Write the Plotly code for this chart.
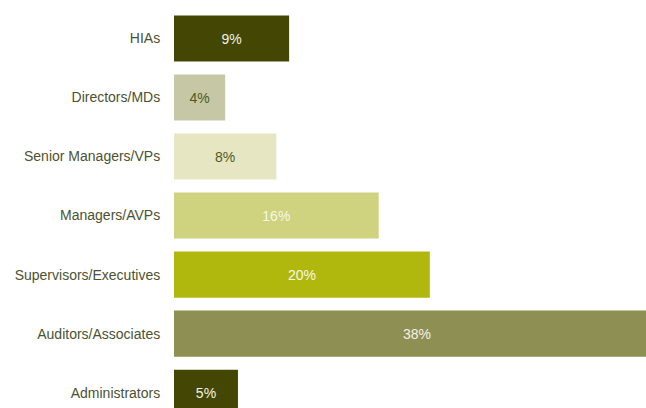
import plotly.graph_objects as go

# Staff composition by level (percent of respondents)
categories = ["HIAs", "Directors/MDs", "Senior Managers/VPs", "Managers/AVPs",
              "Supervisors/Executives", "Auditors/Associates", "Administrators"]
values = [9, 4, 8, 16, 20, 38, 5]
bar_colors = ["#434703", "#c5c7a5", "#e6e7c2", "#cfd27f", "#b1b80d", "#8e8f53", "#434703"]
text_colors = ["#f2f2e6", "#4f5a22", "#4f5a22", "#f7f7ea", "#f7f7ea", "#f2f2e6", "#f2f2e6"]

fig = go.Figure(go.Bar(
    y=categories,
    x=values,
    orientation="h",
    marker=dict(color=bar_colors, line=dict(width=0)),
    text=[f"{v}%" for v in values],
    textposition="inside",
    insidetextanchor="middle",
    textangle=0,
    textfont=dict(family="Liberation Sans, Arial, sans-serif", size=14, color=text_colors),
    cliponaxis=True,
    hoverinfo="skip",
))

fig.update_layout(
    width=646, height=408,
    margin=dict(l=174, r=0, t=9, b=0),
    paper_bgcolor="white", plot_bgcolor="white",
    bargap=0.22,
    showlegend=False,
    font=dict(family="Liberation Sans, Arial, sans-serif", size=14, color="#4b5230"),
)
fig.update_xaxes(range=[0, 36.9], visible=False, showgrid=False, zeroline=False)
fig.update_yaxes(
    categoryorder="array", categoryarray=categories,
    range=[6.26, -0.5],
    showgrid=False, zeroline=False, showline=False,
    ticks="outside", ticklen=10, tickcolor="rgba(0,0,0,0)",
    tickfont=dict(size=14, color="#4b5230"),
)

fig.write_html("out.html")
